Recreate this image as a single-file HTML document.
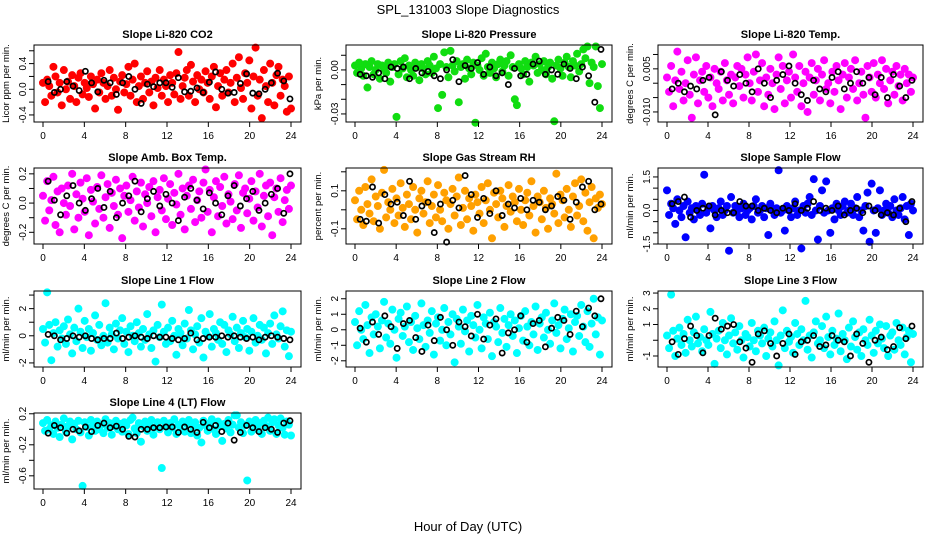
<!DOCTYPE html>
<html><head><meta charset="utf-8">
<style>
html,body{margin:0;padding:0;background:#fff;}
svg{display:block;font-family:"Liberation Sans",Arial,sans-serif;}
</style></head>
<body>
<svg id="chart" width="936" height="540" viewBox="0 0 936 540">
<text x="468" y="14" text-anchor="middle" font-size="13">SPL_131003  Slope Diagnostics</text>
<text x="468" y="531" text-anchor="middle" font-size="13">Hour of Day (UTC)</text>
</svg>
<script>
const titles = ["Slope Li-820 CO2","Slope Li-820 Pressure","Slope Li-820 Temp.","Slope Amb. Box Temp.","Slope Gas Stream RH","Slope Sample Flow","Slope Line 1 Flow","Slope Line 2 Flow","Slope Line 3 Flow","Slope Line 4 (LT) Flow"];
const yTitles = ["Licor ppm per min.","kPa per min.","degrees C per min.","degrees C per min.","percent per min.","ml/min per min.","ml/min per min.","ml/min per min.","ml/min per min.","ml/min per min."];
const yMins = [-0.51,-0.0355,-0.0135,-0.28,-0.18,-1.5,-2.3,-2.4,-1.7,-0.77];
const yMaxs = [0.69,0.017,0.0133,0.24,0.22,1.9,3.3,2.5,3.13,0.21];
const yTicks = [[-0.4,-0.2,0,0.2,0.4,0.6],[-0.03,-0.02,-0.01,0,0.01],[-0.01,-0.005,0,0.005,0.01],[-0.2,-0.1,0,0.1,0.2],[-0.1,0,0.1,0.2],[-1.5,-1,-0.5,0,0.5,1,1.5],[-2,-1,0,1,2,3],[-2,-1,0,1,2],[-1,0,1,2,3],[-0.6,-0.4,-0.2,0,0.2]];
const yTickLabels = [["-0.4","","0.0","","0.4",""],["-0.03","","","0.00",""],["-0.010","","","0.005",""],["-0.2","","0.0","","0.2"],["-0.1","","0.1",""],["-1.5","","","0.0","","","1.5"],["-2","","0","","2",""],["-2","-1","0","1","2"],["-1","","1","2","3"],["-0.6","","-0.2","","0.2"]];
const xTicks = [0,4,8,12,16,20,24];
const seriesColors = ["#ff0000","#11dd11","#ff00ff","#ff00ff","#ffa000","#0000ff","#00ffff","#00ffff","#00ffff","#00ffff"];

const co2 = [0.1,-0.2,0.15,0.05,-0.1,0.35,0.2,-0.05,0.1,-0.25,0.3,0.0,0.12,-0.15,0.22,0.05,-0.2,0.18,0.25,-0.08,0.1,0.02,-0.12,0.2,0.08,-0.3,0.15,-0.05,0.25,0.1,-0.15,0.05,0.3,-0.1,0.18,0.0,-0.32,0.12,0.22,-0.05,0.08,0.35,-0.1,0.15,0.4,-0.2,0.05,0.2,-0.15,0.1,0.28,-0.05,0.12,-0.25,0.18,0.02,0.3,-0.1,0.15,0.05,-0.2,0.22,0.1,-0.08,0.25,0.58,-0.15,0.05,0.18,0.3,-0.1,0.38,0.12,-0.2,0.22,0.0,0.15,-0.05,0.28,0.1,-0.15,0.2,0.35,-0.28,0.05,0.25,-0.1,0.15,0.3,-0.05,0.1,0.4,-0.2,0.18,0.5,0.02,-0.15,0.25,0.1,0.45,-0.3,0.2,0.65,-0.1,0.15,-0.45,0.3,0.05,-0.2,0.4,0.1,-0.25,0.22,0.35,-0.1,0.15,0.05,-0.35,0.2,-0.3];
const co2Black = [0.12,-0.05,0.0,0.12,0.05,-0.02,0.28,0.1,-0.04,0.14,0.1,-0.08,0.1,0.2,0.0,-0.22,0.08,0.04,0.1,0.1,0.03,0.18,-0.04,-0.03,0.02,-0.05,0.11,0.27,0.0,-0.06,-0.05,0.09,0.24,-0.06,-0.07,0.0,0.1,0.25,0.13,-0.15];
const pressure = [0.003,-0.002,0.005,0.001,-0.004,0.004,-0.012,0.002,0.006,-0.003,0.000,0.004,-0.006,0.003,0.001,-0.002,0.005,-0.008,0.002,0.004,-0.032,-0.003,0.006,0.001,0.008,-0.005,0.003,0.000,-0.004,0.005,0.002,-0.007,0.004,0.001,-0.003,0.006,0.003,-0.002,0.009,0.001,-0.026,0.004,-0.017,0.012,0.002,-0.005,0.013,0.003,-0.001,0.006,-0.022,0.002,0.004,-0.006,0.007,0.001,-0.003,0.005,-0.036,0.003,0.000,0.008,-0.004,0.011,0.002,-0.002,0.005,0.001,-0.005,0.004,0.007,-0.001,0.003,0.006,-0.004,0.010,0.002,-0.020,-0.024,0.004,0.001,-0.003,0.006,0.002,-0.008,0.005,0.003,0.009,-0.002,0.004,0.000,0.006,-0.003,0.002,0.005,-0.006,-0.035,0.003,0.007,0.001,-0.004,0.005,0.009,0.002,-0.005,0.006,0.003,0.011,-0.001,0.004,0.014,0.008,0.016,-0.009,0.005,0.002,0.016,-0.011,-0.026,0.004];
const pressureBlack = [-0.003,-0.004,-0.005,-0.002,-0.006,0.002,0.001,0.002,-0.006,0.001,-0.002,-0.001,-0.004,-0.006,0.000,0.007,-0.008,0.003,0.001,0.005,-0.003,0.002,-0.004,-0.002,-0.010,0.001,-0.004,-0.003,0.004,0.006,-0.003,0.000,-0.003,0.004,0.001,-0.006,0.002,-0.004,-0.022,0.014];
const liTemp = [0.002,-0.003,0.006,-0.008,0.001,0.011,-0.002,0.004,-0.006,0.000,0.008,-0.004,-0.012,0.003,0.009,-0.007,0.001,0.004,-0.003,0.006,-0.005,0.002,-0.008,0.005,0.000,-0.002,0.004,-0.006,0.007,0.001,-0.004,0.003,-0.007,0.002,0.006,-0.001,0.005,-0.005,0.003,0.009,0.000,-0.006,0.004,0.010,-0.003,0.001,0.007,-0.008,0.002,-0.004,0.005,0.000,-0.009,0.003,0.009,-0.002,0.006,-0.007,0.001,0.004,-0.005,0.010,0.002,-0.003,0.006,-0.008,0.000,0.004,-0.010,0.002,0.007,-0.004,0.001,0.005,-0.006,0.003,0.008,-0.002,0.000,-0.007,0.004,-0.003,0.006,0.001,-0.009,0.003,0.007,-0.005,0.002,0.005,-0.002,0.008,-0.006,0.000,0.004,-0.004,-0.012,0.006,0.002,-0.003,0.007,-0.005,0.003,0.000,0.008,-0.002,0.005,-0.007,0.001,0.004,-0.004,0.006,-0.001,0.003,-0.006,0.005,0.000,0.003,-0.003,0.002];
const liTempBlack = [-0.002,0.000,-0.003,-0.001,-0.002,0.001,0.002,-0.011,0.004,0.001,-0.001,0.003,0.000,-0.003,0.005,0.000,-0.005,0.001,0.003,0.006,0.000,-0.004,-0.006,0.001,-0.002,-0.003,0.002,0.004,-0.002,0.000,0.004,0.000,0.002,-0.004,0.002,-0.005,0.003,-0.001,-0.005,0.001];
const ambTemp = [0.05,-0.12,0.15,-0.05,0.02,0.18,-0.15,0.08,-0.2,0.1,0.0,-0.08,0.12,-0.02,0.2,-0.18,0.06,-0.1,0.14,0.03,-0.06,0.17,-0.22,0.09,0.01,-0.14,0.11,-0.04,0.19,-0.1,0.04,0.13,-0.17,0.07,-0.02,0.16,-0.08,0.1,-0.24,0.05,0.12,-0.06,0.02,0.18,-0.12,0.08,-0.03,0.14,-0.16,0.06,0.0,0.11,-0.09,0.15,-0.2,0.04,0.09,-0.05,0.17,-0.11,0.03,0.13,-0.15,0.07,-0.01,0.2,-0.08,0.1,-0.18,0.05,0.12,-0.04,0.16,-0.13,0.02,0.08,-0.1,0.14,0.23,-0.06,0.09,-0.2,0.04,0.15,-0.09,0.11,-0.02,0.18,-0.14,0.06,0.01,-0.11,0.13,-0.05,0.19,-0.17,0.07,0.1,-0.07,0.03,0.15,-0.12,0.08,-0.03,0.2,-0.16,0.05,0.12,-0.09,0.14,-0.22,0.04,0.1,-0.06,0.17,-0.13,0.02,0.09,-0.04,0.12];
const ambTempBlack = [0.15,0.02,-0.08,0.05,0.12,0.0,-0.05,0.03,0.1,-0.03,0.08,-0.1,0.0,0.05,0.15,-0.06,0.03,0.08,-0.02,0.06,0.0,-0.12,0.04,0.1,0.02,-0.04,0.07,0.0,-0.08,0.05,0.12,-0.02,0.03,0.08,-0.05,0.0,0.06,0.1,-0.07,0.2];
const rh = [0.05,-0.05,0.1,0.0,-0.08,0.12,0.03,-0.02,0.16,-0.06,0.07,0.02,-0.1,0.09,0.21,-0.04,0.04,0.0,0.11,-0.07,0.06,-0.03,0.14,0.01,-0.09,0.08,0.03,-0.05,0.12,0.0,-0.12,0.06,0.1,-0.02,0.04,0.15,-0.07,0.02,0.08,-0.04,0.13,0.0,-0.06,0.09,0.05,-0.1,0.03,0.11,-0.03,0.07,0.17,-0.08,0.01,0.1,-0.05,0.06,0.02,-0.11,0.08,0.04,-0.02,0.12,-0.07,0.05,0.14,0.0,-0.15,0.09,0.03,-0.04,0.1,0.06,-0.09,0.02,0.13,-0.01,0.07,0.04,-0.06,0.11,0.0,-0.08,0.05,0.09,-0.03,0.15,0.02,-0.12,0.07,0.04,-0.05,0.1,0.01,-0.1,0.06,0.03,-0.02,0.19,-0.07,0.08,0.05,-0.04,0.11,0.0,-0.09,0.07,0.14,-0.03,0.02,0.16,-0.06,0.09,-0.11,0.04,0.12,-0.15,0.06,0.01,0.08,0.03];
const rhBlack = [-0.05,-0.06,0.12,-0.07,0.08,0.03,0.04,-0.03,0.15,-0.05,0.02,0.04,-0.12,0.03,-0.17,0.05,0.01,0.18,0.08,-0.04,0.06,-0.02,0.1,-0.03,0.03,0.01,0.06,0.0,0.05,0.04,0.0,0.02,0.07,0.05,-0.05,0.04,0.12,0.15,0.0,0.03];
const sampleFlow = [0.9,-0.2,0.3,0.1,-0.6,0.5,0.0,-0.3,0.2,-1.2,0.4,-0.1,0.1,-0.4,0.2,0.0,-0.2,0.3,1.6,-0.1,0.1,-0.8,0.2,0.0,-0.3,0.1,0.4,-0.2,0.0,0.2,-1.8,0.6,-0.1,0.2,0.0,-0.3,0.1,0.3,-0.2,0.0,0.1,-0.4,0.2,0.5,-0.1,0.0,0.2,-0.3,0.1,-1.1,0.3,0.0,-0.2,0.1,1.8,-0.1,0.0,-0.9,0.2,0.0,-0.3,0.1,0.4,-0.2,0.0,-1.7,0.2,-0.1,0.3,0.6,-0.2,1.4,0.0,-1.3,0.2,0.9,-0.1,1.3,0.0,-1.0,0.1,-0.4,0.3,0.0,-0.2,0.2,0.4,-0.1,0.0,0.3,-0.2,0.1,0.6,-0.3,0.0,-0.9,0.2,0.8,-1.4,1.2,0.0,-1.0,0.1,0.9,-0.2,0.0,0.3,-0.1,0.2,-0.3,0.5,0.0,-0.2,0.1,0.6,-0.4,0.2,-1.1,0.3,0.0];
const sampleFlowBlack = [0.3,0.4,0.6,-0.3,0.0,0.1,0.2,-0.2,0.0,-0.1,-0.1,0.4,0.2,0.2,0.0,0.1,0.0,-0.1,0.1,0.0,0.3,0.0,0.1,0.4,0.0,0.1,0.0,0.2,-0.2,0.0,0.1,-0.1,0.2,0.0,-0.2,-0.1,-0.2,0.1,-0.5,0.4];
const line1 = [0.5,-0.5,3.2,0.8,-1.8,0.2,1.0,-0.8,0.4,-0.2,0.7,-0.6,1.2,0.1,-1.3,0.6,-0.4,2.0,0.3,-0.9,1.1,-0.1,0.5,-1.1,0.2,1.5,-0.3,0.8,-0.7,0.0,2.4,-0.5,0.6,0.1,-1.0,0.9,-0.2,0.4,1.3,-0.6,0.3,-1.2,0.7,0.0,-0.4,1.0,0.2,-0.8,0.5,-0.3,1.6,0.1,-0.9,0.4,-1.9,0.8,-0.1,2.3,0.3,-0.6,0.6,-0.4,1.1,0.0,-1.4,0.5,0.2,-0.7,0.9,-0.2,1.9,0.4,-1.0,0.1,0.7,-0.5,1.3,-1.6,0.3,0.0,1.6,-0.8,0.5,0.2,-0.3,1.0,-0.6,0.8,-1.2,0.4,0.1,1.4,-0.4,0.6,-0.9,0.2,1.1,-0.1,0.5,-1.1,0.3,1.3,-0.5,0.0,0.8,-0.3,0.6,-1.3,0.2,0.9,-0.6,1.5,0.1,-0.2,0.7,1.8,-0.8,0.4,-1.5,0.3];
const line1Black = [0.1,0.0,-0.3,-0.2,0.0,-0.1,0.0,-0.2,-0.3,-0.2,-0.2,0.2,-0.2,-0.1,0.0,-0.1,-0.2,0.0,-0.1,-0.1,-0.2,-0.3,-0.2,0.2,-0.3,-0.2,-0.1,-0.1,0.0,-0.1,0.0,-0.1,-0.2,-0.1,-0.3,-0.1,0.0,-0.1,-0.2,-0.3];
const line2 = [0.5,-1.0,1.2,0.0,-0.6,1.6,0.3,-1.5,0.8,-0.3,1.0,0.2,-1.2,0.6,1.8,-0.5,0.4,-0.9,1.3,0.0,-1.8,0.7,1.1,-0.4,0.2,1.5,-0.8,0.5,-1.3,0.9,0.1,-0.6,1.7,0.3,-1.1,0.6,-0.2,1.2,-1.6,0.4,0.8,-0.7,0.0,1.4,-1.0,0.5,-0.3,1.0,-2.1,0.7,0.2,-0.9,1.3,-0.1,0.6,-1.4,0.9,0.3,-0.5,1.6,0.0,-1.2,0.8,0.4,-0.6,1.1,-1.7,0.5,0.2,-0.8,1.4,-0.2,0.7,-1.1,0.3,1.0,-0.4,0.6,-1.5,0.1,0.9,-0.7,1.2,0.2,-1.0,0.5,-0.3,1.5,-1.3,0.4,0.8,-0.5,1.1,0.0,-0.9,0.6,1.7,-0.2,0.3,-1.2,0.7,1.3,-0.6,0.1,1.0,-1.4,0.5,0.9,-0.4,1.6,0.2,-0.8,1.2,-1.1,0.4,2.0,-0.3,0.8,-1.6,0.6];
const line2Black = [0.1,-0.8,0.5,-0.3,0.9,0.2,-1.2,0.4,0.6,-0.5,-1.4,0.3,-0.7,0.8,0.0,-1.0,0.5,0.2,-0.4,1.0,-0.6,0.3,0.7,-1.5,-0.2,0.0,0.9,-0.8,0.4,0.6,-1.1,0.1,0.8,0.6,-0.3,1.2,0.2,1.4,0.9,2.0];
const line3 = [0.3,-0.5,2.9,0.6,-1.0,0.1,0.8,-0.3,0.4,-0.8,1.3,0.0,-0.4,0.5,1.5,-0.2,0.2,-0.7,0.7,0.0,-0.3,1.8,0.4,-1.5,0.1,0.6,-0.5,1.1,0.0,-0.9,0.3,1.4,-0.2,0.5,-0.6,0.9,0.0,-1.1,0.4,0.2,-0.4,1.1,0.0,-0.7,0.6,0.3,-0.2,0.8,-1.0,0.1,0.5,-0.4,1.2,0.0,-1.6,0.3,1.9,-0.5,0.6,-0.1,0.2,-0.8,1.1,0.4,-0.3,0.7,0.0,2.5,-0.6,0.3,-1.1,0.5,1.2,-0.2,0.0,0.9,-0.5,1.5,0.2,-0.9,0.6,-0.3,0.1,1.7,-0.7,0.4,0.0,-1.2,0.8,-0.4,1.2,0.2,-0.6,0.5,-1.0,0.7,0.0,-0.3,1.3,0.3,-0.8,0.6,-0.2,1.0,0.1,-0.5,0.9,-1.0,0.3,0.5,-0.6,1.1,0.0,-0.3,0.8,-0.9,0.2,0.6,-1.4,0.4];
const line3Black = [-0.1,-0.9,0.1,0.9,0.3,-0.8,0.3,1.4,0.7,0.9,1.0,-0.1,-0.5,-1.4,0.4,0.6,-0.2,-1.0,-0.2,0.4,-0.9,-0.1,0.0,0.3,-0.4,-0.3,0.3,0.0,-0.1,-1.0,0.4,-0.2,-1.4,0.0,0.2,-0.6,-0.4,0.8,0.1,0.9];
const line4 = [0.08,-0.02,0.12,0.0,0.05,-0.06,0.1,0.02,-0.1,0.06,0.14,-0.03,0.04,0.1,-0.13,0.07,0.0,0.11,-0.04,-0.73,0.09,0.03,-0.08,0.12,0.05,-0.02,0.1,0.0,0.06,-0.05,0.13,0.02,0.08,-0.07,0.04,0.11,0.0,0.07,-0.03,0.09,0.05,-0.06,0.12,0.15,0.01,-0.05,0.08,-0.16,0.04,0.1,-0.02,0.06,0.12,-0.07,0.03,0.09,0.0,-0.5,0.11,0.05,-0.04,0.08,0.02,0.13,-0.06,0.06,0.0,0.1,-0.03,0.07,0.12,-0.05,0.04,0.09,-0.08,0.02,-0.17,0.11,0.05,-0.02,0.08,0.13,0.0,-0.06,0.1,0.04,-0.15,0.07,0.01,0.12,-0.04,0.06,0.18,0.18,0.02,0.09,-0.05,0.05,-0.66,0.1,-0.03,0.07,0.12,0.0,0.08,-0.06,0.11,0.04,0.15,-0.02,0.09,0.13,-0.06,0.05,0.14,0.02,-0.07,0.1,0.06,-0.08];
const line4Black = [-0.05,0.05,0.02,-0.05,0.0,-0.02,0.03,-0.03,0.05,0.08,0.02,0.04,0.0,-0.09,-0.1,0.0,0.0,0.02,0.02,0.03,0.03,-0.04,0.03,0.0,-0.04,0.09,0.02,0.05,-0.03,0.08,-0.14,-0.04,0.05,0.02,-0.03,0.02,0.0,-0.04,0.08,0.11];

const colorSeries = [co2,pressure,liTemp,ambTemp,rh,sampleFlow,line1,line2,line3,line4];
const blackSeries = [co2Black,pressureBlack,liTempBlack,ambTempBlack,rhBlack,sampleFlowBlack,line1Black,line2Black,line3Black,line4Black];
const panelNames = ["co2","pressure","li-temp","amb-box-temp","gas-stream-rh","sample-flow","line1-flow","line2-flow","line3-flow","line4-flow"];

const NS = "http://www.w3.org/2000/svg";
const svg = document.getElementById('chart');
const colLeft = [34,346,658], colRight = [301,612,923];
const rowTop = [45,168,291,413], rowBottom = [122,244,367,489];

function mk(tag, attrs, parent){
  const e = document.createElementNS(NS, tag);
  for (const k in attrs) e.setAttribute(k, attrs[k]);
  parent.appendChild(e);
  return e;
}

for (let p = 0; p < 10; p++) {
  const c = p % 3, r = Math.floor(p / 3);
  const L = colLeft[c], R = colRight[c], T = rowTop[r], B = rowBottom[r];
  const xs = h => (L + 9) + h / 24 * ((R - 10) - (L + 9));
  const ys = v => B - (v - yMins[p]) / (yMaxs[p] - yMins[p]) * (B - T);
  const g = mk('g', {}, svg);
  
  

  const t = mk('text', {x:(L+R)/2, y:T-7, 'text-anchor':'middle', 'font-size':'11', 'font-weight':'bold'}, g);
  t.textContent = titles[p];
  
  

  const yt = mk('text', {x:0, y:0, 'text-anchor':'middle', 'font-size':'9.5', transform:`translate(${L-25},${(T+B)/2}) rotate(-90)`}, g);
  yt.textContent = yTitles[p];
  
  

  const cs = colorSeries[p];
  const col = seriesColors[p];
  for (let i = 0; i < cs.length; i++) {
    const h = i * 24 / (cs.length - 1);
    const pt = mk('circle', {cx:xs(h), cy:ys(cs[i]), r:3.2, fill:col, stroke:col, 'stroke-width':'1.6'}, g);
    
    
  }
  const bs = blackSeries[p];
  for (let i = 0; i < bs.length; i++) {
    const h = 0.5 + i * 23.4 / (bs.length - 1);
    const pt = mk('circle', {cx:xs(h), cy:ys(bs[i]), r:2.6, fill:'none', stroke:'#000', 'stroke-width':'1.7'}, g);
    
    
  }

  const box = mk('rect', {x:L, y:T, width:R-L, height:B-T, fill:'none', stroke:'#000', 'stroke-width':'1'}, g);
  
  

  for (let i = 0; i < xTicks.length; i++) {
    const x = xs(xTicks[i]);
    const tk = mk('line', {x1:x, x2:x, y1:B, y2:B+5, stroke:'#000'}, g);
    
    
    const tl = mk('text', {x:x, y:B+17, 'text-anchor':'middle', 'font-size':'10'}, g);
    tl.textContent = xTicks[i];
    
    
  }
  const yk = yTicks[p];
  for (let i = 0; i < yk.length; i++) {
    const y = ys(yk[i]);
    const tk = mk('line', {x1:L-5, x2:L, y1:y, y2:y, stroke:'#000'}, g);
    
    
    if (yTickLabels[p][i]) {
      const tl = mk('text', {x:0, y:0, 'text-anchor':'middle', 'font-size':'10', transform:`translate(${L-8},${y}) rotate(-90)`}, g);
      tl.textContent = yTickLabels[p][i];
      
      
    }
  }
}
</script>
</body></html>
